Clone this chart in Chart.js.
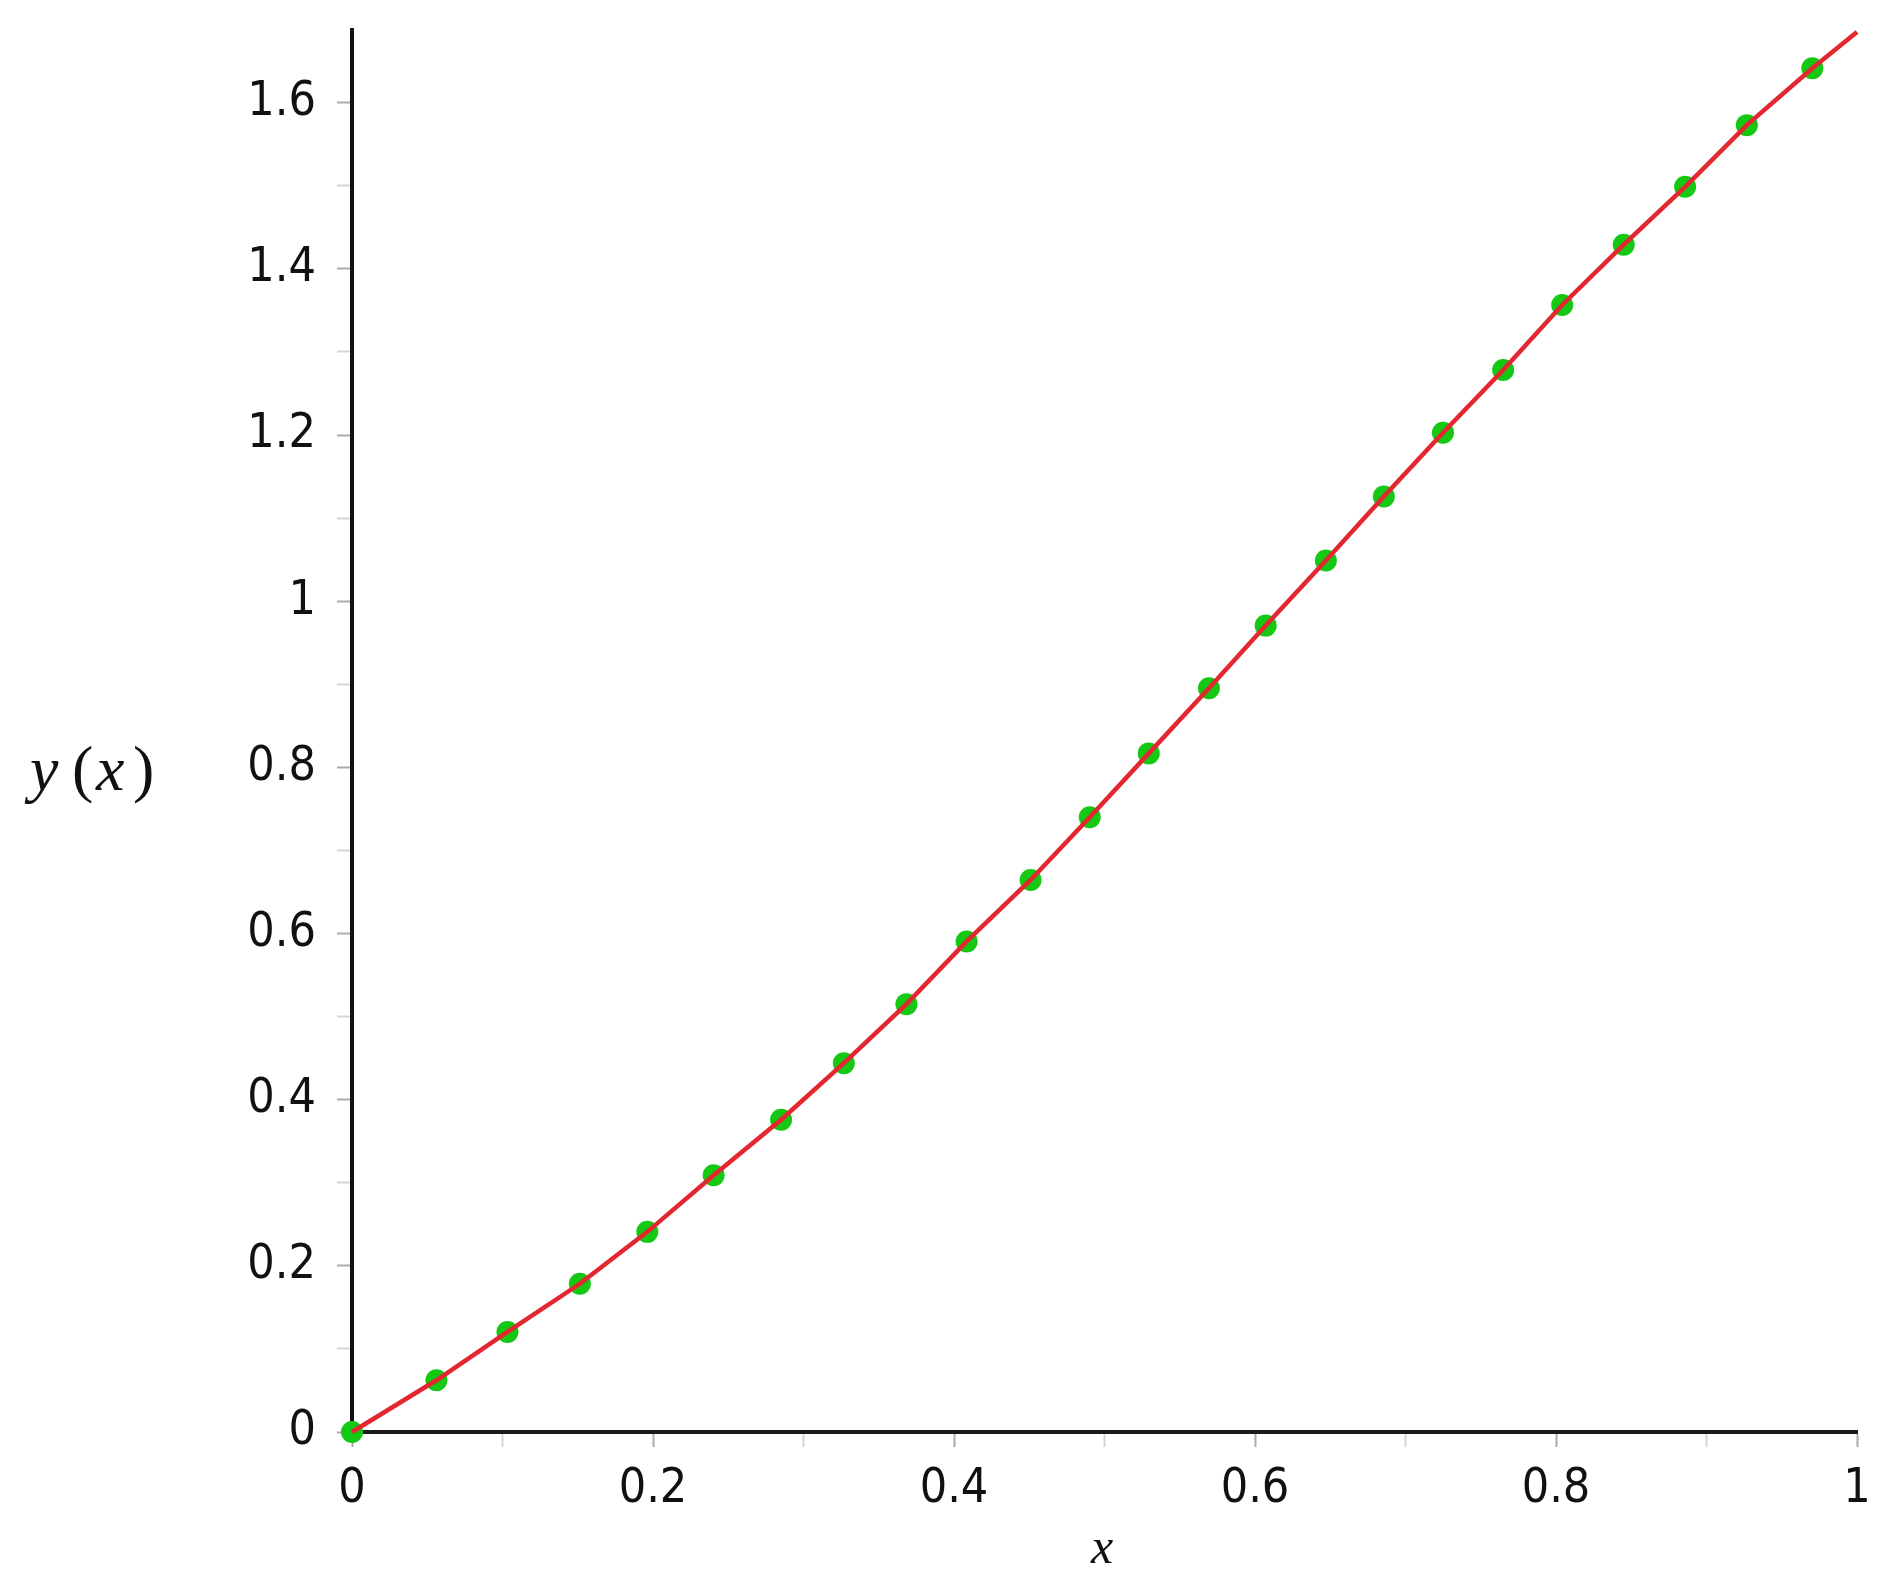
<!DOCTYPE html>
<html>
<head>
<meta charset="utf-8">
<title>y(x)</title>
<script src="https://cdn.jsdelivr.net/npm/chart.js@4.4.1/dist/chart.umd.min.js"></script>
<style>
  html, body { margin: 0; padding: 0; background: #fff; }
  .wrap { position: relative; width: 1890px; height: 1589px; }
</style>
</head>
<body>
<div class="wrap"><canvas id="plot"></canvas></div>
<script>
/* ── Data ── */
var pointX = [0, 0.0561, 0.1033, 0.1514, 0.1962, 0.2403, 0.2851, 0.3268, 0.3684, 0.4084, 0.4509, 0.4902,
  0.5294, 0.5694, 0.6071, 0.6471, 0.6856, 0.7249, 0.7649, 0.8041, 0.8450, 0.8858, 0.9268, 0.9703];
var pointY = [0, 0.0623, 0.1204, 0.1784, 0.2409, 0.3090, 0.3758, 0.4439, 0.5150, 0.5905, 0.6645, 0.7399,
  0.8168, 0.8952, 0.9706, 1.0490, 1.1259, 1.2028, 1.2782, 1.3565, 1.4291, 1.4988, 1.5730, 1.6415];

// red curve: same nodes plus its end at x = 1
var curveX = pointX.concat([1]);
var curveY = pointY.concat([1.685]);

var xTicks = [0, 0.2, 0.4, 0.6, 0.8, 1];
var yTicks = [0, 0.2, 0.4, 0.6, 0.8, 1, 1.2, 1.4, 1.6];

(function () {
  'use strict';

  var tickFont = { family: "'Liberation Sans Narrow', 'DejaVu Sans Condensed', sans-serif", size: 48 };

  function toXY(xs, ys) {
    return xs.map(function (x, i) { return { x: x, y: ys[i] }; });
  }

  function isLabelled(list, v) {
    return list.some(function (t) { return Math.abs(t - v) < 1e-6; });
  }

  function fmt(v) {
    return String(Math.round(v * 10) / 10);
  }

  function keepTenths(scale) {
    scale.ticks = scale.ticks.filter(function (t) {
      return Math.abs(t.value * 10 - Math.round(t.value * 10)) < 1e-6;
    });
  }

  // no extra room for half-labels, the plot box is fixed by layout padding
  function noPad(s) {
    s.paddingTop = 0;
    s.paddingBottom = 0;
    s.paddingLeft = 0;
    s.paddingRight = 0;
  }

  /* ── Axis titles, drawn flat like the original ── */
  var axisTitles = {
    id: 'axisTitles',
    afterDraw: function (chart) {
      var ctx = chart.ctx;
      ctx.save();
      ctx.fillStyle = '#111';
      ctx.textBaseline = 'alphabetic';
      ctx.textAlign = 'left';

      var italic = "italic 64px 'Liberation Serif', 'DejaVu Serif', serif";
      var upright = "64px 'Liberation Serif', 'DejaVu Serif', serif";
      var parts = [['y', italic, 30], ['(', upright, 72], ['x', italic, 96], [')', upright, 133]];
      parts.forEach(function (p) {
        ctx.font = p[1];
        ctx.fillText(p[0], p[2], 790);
      });

      ctx.textAlign = 'center';
      ctx.font = "italic 50px 'Liberation Serif', 'DejaVu Serif', serif";
      ctx.fillText('x', 1102, 1563);
      ctx.restore();
    }
  };

  function init() {
    var ctx = document.getElementById('plot');

    new Chart(ctx, {
      type: 'scatter',
      data: {
        datasets: [
          {
            label: 'y(x)',
            data: toXY(curveX, curveY),
            showLine: true,
            borderColor: '#e3262f',
            borderWidth: 4.5,
            pointRadius: 0,
            tension: 0,
            clip: false
          },
          {
            label: 'points',
            data: toXY(pointX, pointY),
            showLine: false,
            pointStyle: 'circle',
            pointRadius: 11,
            pointBackgroundColor: '#14c814',
            pointBorderWidth: 0,
            clip: false
          }
        ]
      },
      options: {
        responsive: true,
        maintainAspectRatio: false,
        animation: false,
        layout: { padding: { top: 30, right: 33, left: 0, bottom: 0 } },
        plugins: {
          legend: { display: false },
          tooltip: { enabled: false }
        },
        scales: {
          x: {
            type: 'linear',
            min: 0,
            max: 1,
            afterBuildTicks: keepTenths,
            afterFit: function (s) { s.height = 157; noPad(s); },
            border: { display: true, color: '#1a1a1a', width: 4 },
            grid: {
              drawOnChartArea: false,
              drawTicks: true,
              tickLength: 15,
              tickWidth: 2,
              tickColor: function (c) { return isLabelled(xTicks, c.tick.value) ? '#aaa' : '#d4d4d4'; }
            },
            ticks: {
              stepSize: 0.1,
              autoSkip: false,
              maxRotation: 0,
              padding: 14,
              color: '#111',
              font: tickFont,
              callback: function (v) { return isLabelled(xTicks, v) ? fmt(v) : ''; }
            }
          },
          y: {
            type: 'linear',
            min: 0,
            max: 1.6875,
            afterBuildTicks: keepTenths,
            afterFit: function (s) { s.width = 352; noPad(s); },
            border: { display: true, color: '#111', width: 4 },
            grid: {
              drawOnChartArea: false,
              drawTicks: true,
              tickLength: 15,
              tickWidth: 2,
              tickColor: function (c) { return isLabelled(yTicks, c.tick.value) ? '#aaa' : '#d4d4d4'; }
            },
            ticks: {
              stepSize: 0.1,
              autoSkip: false,
              padding: 21,
              color: '#111',
              font: tickFont,
              callback: function (v) { return isLabelled(yTicks, v) ? fmt(v) : ''; }
            }
          }
        }
      },
      plugins: [axisTitles]
    });
  }

  if (document.readyState === 'loading') {
    document.addEventListener('DOMContentLoaded', init);
  } else {
    init();
  }
})();
</script>
</body>
</html>
